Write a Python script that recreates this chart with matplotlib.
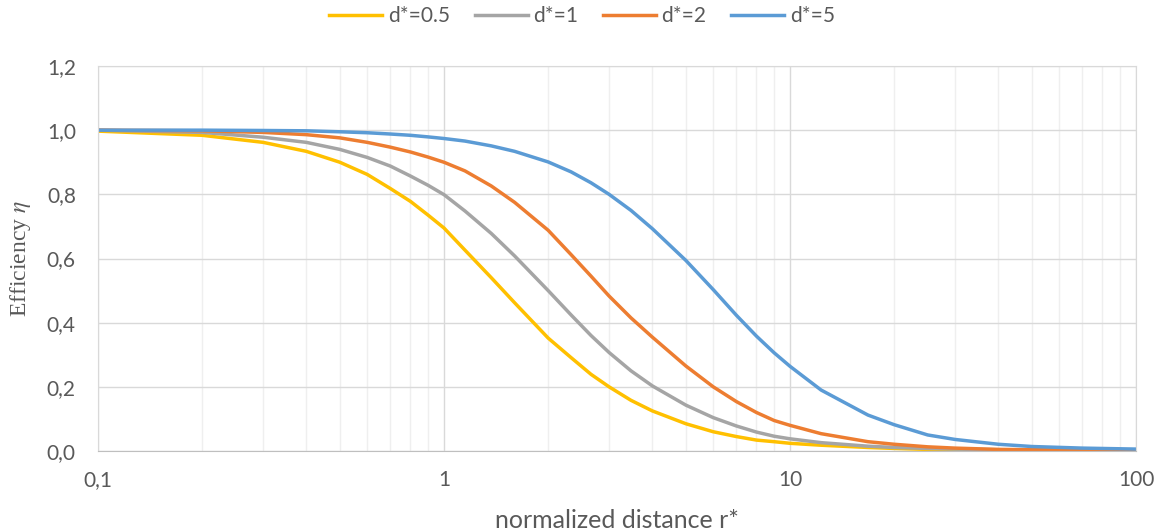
import matplotlib.pyplot as plt
from matplotlib.ticker import FixedLocator, NullFormatter

# values
r = [0.1, 0.2, 0.3, 0.4, 0.5, 0.6, 0.7, 0.8, 0.9, 1.0, 1.15, 1.37, 1.6, 2.0, 2.33, 2.66, 3.0,
     3.47, 4.0, 5.0, 6.0, 7.0, 8.0, 9.0, 10.0, 12.3, 16.8, 20.0, 25.0, 30.0, 40.0, 50.0, 70.0, 100.0]
eta_05 = [0.997, 0.984, 0.962, 0.934, 0.900, 0.862, 0.818, 0.778, 0.735, 0.695, 0.626, 0.540, 0.462,
          0.352, 0.291, 0.239, 0.200, 0.158, 0.125, 0.085, 0.060, 0.045, 0.034, 0.029, 0.024, 0.018,
          0.011, 0.008, 0.005, 0.004, 0.002, 0.002, 0.001, 0.0]
eta_1 = [1.0, 0.993, 0.978, 0.962, 0.940, 0.915, 0.888, 0.857, 0.828, 0.799, 0.748, 0.678, 0.608,
         0.500, 0.424, 0.360, 0.307, 0.250, 0.203, 0.143, 0.104, 0.078, 0.059, 0.046, 0.038, 0.026,
         0.015, 0.011, 0.008, 0.006, 0.004, 0.003, 0.002, 0.001]
eta_2 = [1.0, 0.998, 0.993, 0.986, 0.976, 0.962, 0.947, 0.932, 0.916, 0.900, 0.873, 0.826, 0.775,
         0.688, 0.612, 0.545, 0.483, 0.415, 0.355, 0.265, 0.200, 0.154, 0.120, 0.095, 0.080, 0.054,
         0.029, 0.021, 0.013, 0.009, 0.005, 0.004, 0.003, 0.002]
eta_5 = [1.0, 1.0, 0.999, 0.998, 0.995, 0.992, 0.988, 0.984, 0.979, 0.974, 0.966, 0.951, 0.934,
         0.901, 0.870, 0.836, 0.800, 0.750, 0.693, 0.594, 0.503, 0.423, 0.358, 0.306, 0.264, 0.190,
         0.112, 0.082, 0.050, 0.036, 0.021, 0.014, 0.009, 0.006]

series = [
    ("d*=0.5", eta_05, "#FFC000"),
    ("d*=1", eta_1, "#A5A5A5"),
    ("d*=2", eta_2, "#ED7D31"),
    ("d*=5", eta_5, "#5B9BD5"),
]

x_ticks = [0.1, 1, 10, 100]
x_labels = ["0,1", "1", "10", "100"]
y_ticks = [0.0, 0.2, 0.4, 0.6, 0.8, 1.0, 1.2]
y_labels = ["0,0", "0,2", "0,4", "0,6", "0,8", "1,0", "1,2"]

plt.rcParams['font.family'] = ['Lato', 'DejaVu Sans']
plt.rcParams['mathtext.fontset'] = 'stix'
txt = "#595959"

fig = plt.figure(figsize=(11.59, 5.31), dpi=100)
ax = fig.add_axes([98 / 1159, 1 - 451 / 531, (1136 - 98) / 1159, (451 - 66) / 531])

for name, vals, col in series:
    ax.plot(r, vals, color=col, linewidth=2.5, label=name, solid_joinstyle='round')

ax.set_xscale('log')
ax.set_xlim(0.1, 100)
ax.set_ylim(0, 1.2)

ax.xaxis.set_major_locator(FixedLocator(x_ticks))
ax.set_xticklabels(x_labels)
minors = [m * 10.0 ** e for e in (-1, 0, 1) for m in range(2, 10)]
ax.xaxis.set_minor_locator(FixedLocator(minors))
ax.xaxis.set_minor_formatter(NullFormatter())
ax.set_yticks(y_ticks)
ax.set_yticklabels(y_labels)

ax.grid(which='major', axis='y', color='#d9d9d9', linewidth=1.0)
ax.grid(which='major', axis='x', color='#d9d9d9', linewidth=1.0)
ax.grid(which='minor', axis='x', color='#efefef', linewidth=1.0)
ax.set_axisbelow(True)

ax.tick_params(which='both', length=0, labelsize=15, colors=txt)
ax.tick_params(axis='x', pad=14)
ax.tick_params(axis='y', pad=16)

for s in ax.spines.values():
    s.set_color('#d9d9d9')
ax.spines['bottom'].set_color('#bfbfbf')

ax.set_ylabel("Efficiency $\\eta$", family='Liberation Serif', fontsize=17, color=txt, labelpad=10)
fig.text(617 / 1159, 1 - 520 / 531, "normalized distance r*", ha='center', va='center',
         fontsize=18, color=txt)

fig.legend(loc='center', bbox_to_anchor=(582 / 1159, 1 - 16 / 531), ncol=4, frameon=False,
           fontsize=15, labelcolor=txt, handlelength=2.55, handletextpad=0.25, columnspacing=1.2)

fig.savefig("out.png", dpi=100)
